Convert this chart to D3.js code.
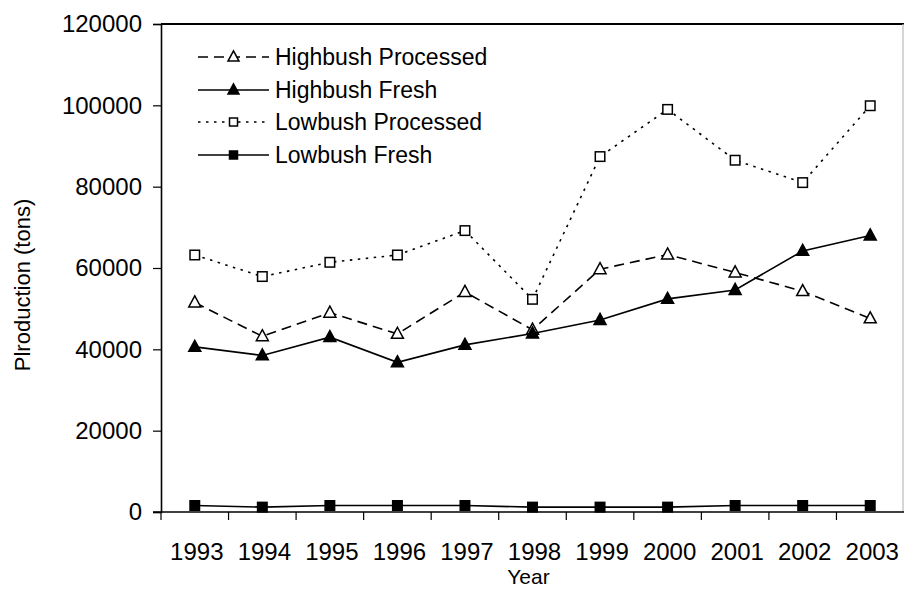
<!DOCTYPE html>
<html><head><meta charset="utf-8">
<script src="https://cdn.jsdelivr.net/npm/d3@7"></script>
<style>
html,body{margin:0;padding:0;background:#fff;}
text{font-family:"Liberation Sans",Arial,sans-serif;fill:#000;}
</style></head>
<body><svg id="chart" width="904" height="589"></svg>
<script>
const years = ["1993","1994","1995","1996","1997","1998","1999","2000","2001","2002","2003"];
const highbushProcessed = [51500, 43200, 49000, 43800, 54100, 44800, 59700, 63300, 58900, 54300, 47600];
const highbushFresh     = [40600, 38500, 43000, 36800, 41100, 43900, 47200, 52400, 54600, 64200, 68000];
const lowbushProcessed  = [63200, 57900, 61400, 63200, 69200, 52300, 87400, 99000, 86500, 81000, 99900];
const lowbushFresh      = [1600, 1200, 1600, 1600, 1600, 1200, 1200, 1200, 1600, 1600, 1600];
const yTicks = [0, 20000, 40000, 60000, 80000, 100000, 120000];
const seriesNames = ["Highbush Processed","Highbush Fresh","Lowbush Processed","Lowbush Fresh"];

const svg = d3.select("#chart");
const L = 161, R = 904, T = 24, B = 512;
const x = d3.scaleBand().domain(years).range([L, R]);
const y = d3.scaleLinear().domain([0, 120000]).range([B, T]);

const series = [
  {name: seriesNames[0], values: highbushProcessed, dash: "10,6", marker: "triangle", fill: "#fff"},
  {name: seriesNames[1], values: highbushFresh, dash: null, marker: "triangle", fill: "#000"},
  {name: seriesNames[2], values: lowbushProcessed, dash: "2.5,5.5", marker: "square", fill: "#fff"},
  {name: seriesNames[3], values: lowbushFresh, dash: null, marker: "square", fill: "#000"}
];

// plot frame (top and right)
svg.append("line").attr("x1", L).attr("x2", R).attr("y1", T).attr("y2", T).attr("stroke", "#000").attr("stroke-width", 2);
svg.append("line").attr("x1", 903).attr("x2", 903).attr("y1", T).attr("y2", B).attr("stroke", "#bbb").attr("stroke-width", 1.2);

// y axis
const yAxis = d3.axisLeft(y).tickValues(yTicks).tickSize(8).tickPadding(11).tickFormat(d => String(d));
const gy = svg.append("g").attr("transform", `translate(${L},0)`).call(yAxis);
gy.select(".domain").attr("stroke", "#000").attr("stroke-width", 1.6);
gy.selectAll(".tick line").attr("stroke", "#000").attr("stroke-width", 1.2);
gy.selectAll(".tick text").style("font-size", "24px").attr("font-family", "Liberation Sans, Arial, sans-serif");

// x axis
const xAxis = d3.axisBottom(x).tickSize(0).tickPadding(31);
const gx = svg.append("g").attr("transform", `translate(0,${B})`).call(xAxis);
gx.select(".domain").remove();
gx.selectAll(".tick text").style("font-size", "24px").attr("font-family", "Liberation Sans, Arial, sans-serif").attr("dx", "2");
svg.append("line").attr("x1", L - 8).attr("x2", R).attr("y1", B).attr("y2", B).attr("stroke", "#000").attr("stroke-width", 1.6);
// tick marks at band boundaries
const bounds = years.map(d => x(d));
svg.append("g").selectAll("line").data(bounds).join("line")
  .attr("x1", d => d).attr("x2", d => d).attr("y1", B).attr("y2", B + 8)
  .attr("stroke", "#000").attr("stroke-width", 1.2);

// axis titles
svg.append("text").attr("x", (L + R) / 2 - 4).attr("y", 584).attr("text-anchor", "middle").style("font-size", "21px").text("Year");
svg.append("text").attr("transform", "translate(30,285) rotate(-90)").attr("text-anchor", "middle").style("font-size", "22px").text("Plroduction (tons)");

const cx = d => x(d) + x.bandwidth() / 2;
const line = d3.line().x((d, i) => cx(years[i])).y(d => y(d));

function drawMarker(g, type, fill, px, py, s) {
  if (type === "triangle") {
    const w = s, h = s * 0.92;
    g.append("path").attr("d", `M0,${-h * 0.6}L${w / 2},${h * 0.4}L${-w / 2},${h * 0.4}Z`)
      .attr("transform", `translate(${px},${py})`)
      .attr("fill", fill).attr("stroke", "#000").attr("stroke-width", 1.5).attr("stroke-linejoin", "miter");
  } else {
    g.append("rect").attr("x", px - s / 2).attr("y", py - s / 2).attr("width", s).attr("height", s)
      .attr("fill", fill).attr("stroke", "#000").attr("stroke-width", 1.5);
  }
}

series.forEach(s => {
  const g = svg.append("g");
  g.append("path").datum(s.values).attr("d", line).attr("fill", "none")
    .attr("stroke", "#000").attr("stroke-width", 1.6)
    .attr("stroke-dasharray", s.dash);
  s.values.forEach((v, i) => drawMarker(g, s.marker, s.fill, cx(years[i]), y(v), s.marker === "triangle" ? 12 : 9.5));
});

// legend
const legY = [57, 90, 122, 155];
series.forEach((s, i) => {
  const g = svg.append("g");
  g.append("line").attr("x1", 198).attr("x2", 269).attr("y1", legY[i]).attr("y2", legY[i])
    .attr("stroke", "#000").attr("stroke-width", 1.6).attr("stroke-dasharray", s.dash);
  drawMarker(g, s.marker, s.fill, 233.5, legY[i], s.marker === "triangle" ? 11 : 8);
  g.append("text").attr("x", 275).attr("y", legY[i]).attr("dy", "0.35em").style("font-size", "23px").text(s.name);
});
</script>
</body></html>
